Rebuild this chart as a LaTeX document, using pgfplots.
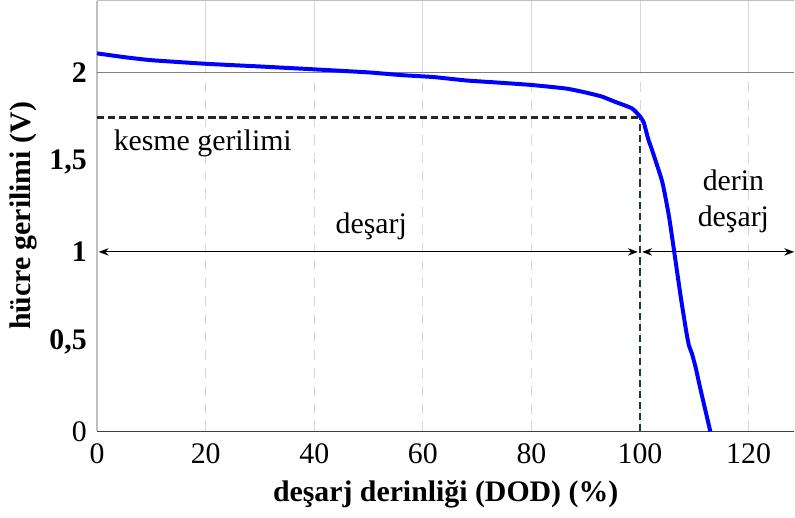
\documentclass[border=0pt]{standalone}
\usepackage{fontspec}
\setmainfont{Liberation Serif}
\usepackage{pgfplots}
\pgfplotsset{compat=1.18}
\usetikzlibrary{arrows.meta}
\definecolor{curveblue}{RGB}{0,0,255}
\definecolor{cutgreen}{RGB}{30,60,45}
\definecolor{gridgray}{RGB}{215,215,215}

\pgfplotstableread{
dod    v
0      2.106
5      2.085
10     2.068
20     2.048
30     2.033
40     2.017
50     2.000
56     1.985
62     1.974
68     1.955
74     1.943
80     1.930
86.4   1.910
90     1.888
93     1.865
95.5   1.835
98.5   1.800
100    1.755
100.7  1.720
101.5  1.630
102.3  1.560
104.1  1.390
105.3  1.205
106.4  0.980
107.5  0.750
108.5  0.560
109.0  0.480
109.6  0.430
110.3  0.350
111.1  0.240
112.95 0
}\curve

\begin{document}
\fontsize{15}{18}\selectfont
\begin{tikzpicture}
\begin{axis}[
  scale only axis,
  width=349.5bp, height=216bp,
  xmin=0, xmax=128.4,
  ymin=0, ymax=2.4,
  axis lines=left,
  x axis line style={-, black!75, line width=0.8pt},
  y axis line style={-, black!25, line width=0.6pt},
  major tick length=0pt,
  xtick={0,20,...,120},
  xticklabels={0,20,40,60,80,100,120},
  ytick={0,0.5,1,1.5,2},
  yticklabels={0,\textbf{0,5},\textbf{1},\textbf{1,5},\textbf{2}},
  xmajorgrids=true,
  grid style={gridgray, dashed, dash pattern=on 5pt off 4pt, line width=0.5pt},
  tick label style={font=\fontsize{15}{18}\selectfont},
  xticklabel style={yshift=-1bp},
  xlabel={\textbf{deşarj derinliği (DOD) (\%)}},
  ylabel={\textbf{hücre gerilimi (V)}},
  label style={font=\fontsize{15}{18}\selectfont},
  xlabel style={yshift=2bp},
  ylabel style={yshift=-4bp},
  clip=false,
]
% solid upper grid parts and reference lines
\pgfplotsinvokeforeach{20,40,60,80,100,120}{
  \draw[gridgray, line width=0.5pt] (axis cs:#1,2) -- (axis cs:#1,2.4);
}
\draw[black!25, line width=0.6pt] (axis cs:0,2.4) -- (axis cs:128.4,2.4);
\draw[black!50, line width=0.6pt] (axis cs:0,2) -- (axis cs:128.4,2);

% cut-off voltage
\draw[black!85, line width=1.4pt, dash pattern=on 3.6pt off 2pt] (axis cs:0,1.75) -- (axis cs:100,1.75);
\draw[cutgreen, line width=1.3pt, dash pattern=on 3.6pt off 2pt] (axis cs:100,0) -- (axis cs:100,1.75);

% discharge regions
\draw[{Stealth[length=5pt]}-{Stealth[length=5pt]}, line width=0.5pt] (axis cs:0.3,1) -- (axis cs:99.6,1);
\draw[{Stealth[length=5pt]}-{Stealth[length=5pt]}, line width=0.5pt] (axis cs:100.4,1) -- (axis cs:128.4,1);

\addplot[curveblue, line width=2pt, smooth, tension=0.3] table[x=dod, y=v] {\curve};

\node[anchor=west, inner sep=0pt] at (axis cs:3,1.605) {kesme gerilimi};
\node at (axis cs:50.5,1.14) {deşarj};
\node[align=center] at (axis cs:117.2,1.28) {derin\\deşarj};
\end{axis}
\end{tikzpicture}
\end{document}
